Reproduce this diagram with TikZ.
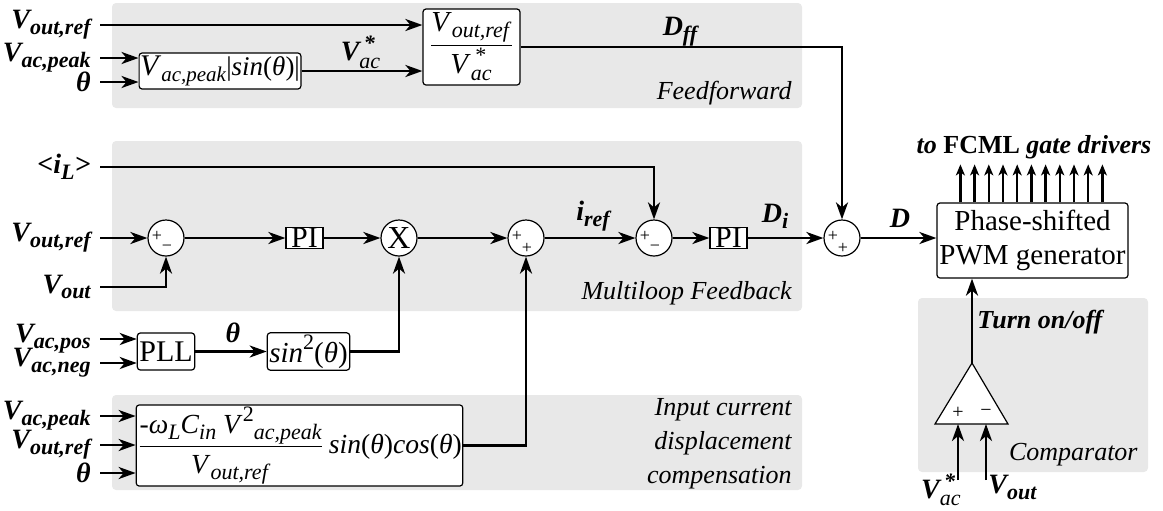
\documentclass[tikz,border=0pt]{standalone}
\usepackage{fontspec}
\setmainfont{Liberation Serif}
\usetikzlibrary{arrows.meta,calc}
\definecolor{panelgray}{RGB}{232,232,232}
\newcommand\sub[1]{\raisebox{-0.45ex}{\fontsize{11}{12}\selectfont #1}}
\newcommand\subs[1]{\raisebox{-0.45ex}{\fontsize{10.5}{12}\selectfont #1}}
\newcommand\supx[1]{\raisebox{0.95ex}{\fontsize{11}{12}\selectfont #1}}
\newcommand\vstar{$\hbox{\textit{V}}^{\hbox{\fontsize{11}{12}\selectfont\hspace{0.2em}*}}_{\hbox{\fontsize{11}{12}\selectfont\textit{ac}}}$}
\newcommand\vstarb{$\hbox{\textbf{\textit{V}}}^{\hbox{\fontsize{11}{12}\selectfont\hspace{0.2em}\textbf{*}}}_{\hbox{\fontsize{11}{12}\selectfont\textmd{\textit{ac}}}}$}
\begin{document}
\begin{tikzpicture}[x=0.5pt,y=-0.5pt,
  font=\fontsize{13}{17}\selectfont,
  panel/.style={fill=panelgray, rounded corners=2pt, draw=none},
  blk/.style={draw, line width=0.6pt, rounded corners=1.5pt, fill=white, inner sep=1pt, font=\fontsize{14.5}{16}\selectfont},
  piblk/.style={draw, line width=0.6pt, fill=white, inner sep=0.5pt, minimum width=18.5pt, minimum height=10.5pt, font=\fontsize{15}{15}\selectfont},
  sumc/.style={circle, draw, line width=0.6pt, fill=white, minimum size=18pt, inner sep=0pt},
  arr/.style={line width=1.3pt, -{Stealth[length=8.5pt,width=6pt,inset=2.5pt]}},
  inlbl/.style={anchor=east, inner xsep=4.5pt, inner ysep=0pt, font=\fontsize{14}{15}\bfseries\itshape\selectfont},
  siglbl/.style={inner sep=0pt, font=\fontsize{14}{15}\bfseries\itshape\selectfont},
  sgn/.style={font=\fontsize{9}{9}\selectfont, inner sep=0pt},
  note/.style={font=\fontsize{13}{17}\itshape\selectfont, inner sep=0pt},
]
\useasboundingbox (0,0) rectangle (1163,510);
% panels
\fill[panel] (112,3) rectangle (802,108);
\fill[panel] (112,141) rectangle (802,311);
\fill[panel] (112,395) rectangle (802,490);
\fill[panel] (918,298) rectangle (1148,472);

% panel titles
\node[note, anchor=east] (tff) at (792,93) {Feedforward};
\node[note, anchor=east] (tml) at (792,293) {Multiloop Feedback};
\node[note, anchor=east, align=right] (tic) at (792,444) {Input current\\displacement\\compensation};
\node[note, anchor=east] (tcp) at (1138,455) {Comparator};

% feedforward blocks
\node[blk, inner xsep=0.5pt, minimum width=80pt, minimum height=18pt, font=\fontsize{13.5}{16}\selectfont] (ffa) at (220,71)
  {{\fontsize{15}{16}\selectfont\textit{V}}\subs{\textit{ac,peak}}|\textit{sin}(\textit{θ})|};
\node[blk, minimum width=48.5pt, minimum height=38pt] (ffb) at (471.5,47)
  {$\displaystyle\frac{\hbox{\textit{V}\sub{\textit{out,ref}}}}{\hbox{\vstar}}$};

% multiloop blocks
\node[sumc] (s1) at (166,238) {};
\node[piblk] (pi1) at (304.5,238) {PI};
\node[sumc, font=\fontsize{16}{16}\selectfont] (mx) at (399,238) {X};
\node[sumc] (s2) at (526,238) {};
\node[sumc] (s3) at (654,238) {};
\node[piblk] (pi2) at (728.5,238) {PI};
\node[sumc] (s4) at (842,238) {};
\node[blk, minimum width=95.5pt, minimum height=37.5pt, align=center, font=\fontsize{14.5}{17}\selectfont] (pwm) at (1032.5,240.5) {Phase-shifted\\PWM generator};

% signs in summing junctions
\node[sgn] at ($(s1)+(-9,-2)$) {+};
\node[sgn] at ($(s1)+(1,10)$) {−};
\node[sgn] at ($(s2)+(-9,-2)$) {+};
\node[sgn] at ($(s2)+(1,10)$) {+};
\node[sgn] at ($(s3)+(-9,-2)$) {+};
\node[sgn] at ($(s3)+(1,10)$) {−};
\node[sgn] at ($(s4)+(-9,-2)$) {+};
\node[sgn] at ($(s4)+(1,10)$) {+};

% lower blocks
\node[blk, minimum width=28pt, minimum height=18.5pt, font=\fontsize{15}{16}\selectfont] (pll) at (166,351.5) {PLL};
\node[blk, minimum width=38.5pt, minimum height=18.5pt] (sq) at (308.5,351.5) {\textit{sin}\supx{2}(\textit{θ})};
\node[blk, inner xsep=0.5pt, minimum width=161.5pt, minimum height=37.5pt, font=\fontsize{13.8}{16}\selectfont] (cb) at (299.5,445.5)
  {$\displaystyle\frac{\hbox{-\textit{ω}\sub{\textit{L}}\textit{C}\sub{\textit{in}} \textit{V}\supx{2}\sub{\textit{ac,peak}}}}{\hbox{\textit{V}\sub{\textit{out,ref}}}}$\,\textit{sin}(\textit{θ})\textit{cos}(\textit{θ})};

% input labels
\node[inlbl] (l1) at (100,25) {V\sub{out,ref}};
\node[inlbl] (l2) at (100,58) {V\sub{ac,peak}};
\node[inlbl] (l3) at (100,82) {θ};
\node[inlbl] (l4) at (100,167) {<i\sub{L}>};
\node[inlbl] (l5) at (100,238) {V\sub{out,ref}};
\node[inlbl] (l6) at (100,287) {V\sub{out}};
\node[inlbl] (l7) at (100,339) {V\sub{ac,pos}};
\node[inlbl] (l8) at (100,363) {V\sub{ac,neg}};
\node[inlbl] (l9) at (100,416) {V\sub{ac,peak}};
\node[inlbl] (l10) at (100,445) {V\sub{out,ref}};
\node[inlbl] (l11) at (100,473) {θ};

% signal labels
\node[siglbl] (lvac) at (361,52) {\vstarb};
\node[siglbl] (ldff) at (680,32) {D\sub{ff}};
\node[siglbl] (liref) at (593,216) {i\sub{ref}};
\node[siglbl] (ldi) at (775,216) {D\sub{i}};
\node[siglbl] (ld) at (900,218) {D};
\node[siglbl] (lth) at (233,333) {θ};
\node[siglbl, font=\fontsize{13}{15}\bfseries\selectfont] (lgate) at (1034,147)
  {\textit{to} FCML \textit{gate drivers}};
\node[siglbl, anchor=west, font=\fontsize{13}{15}\bfseries\itshape\selectfont] (lturn) at (977,322) {Turn on/off};

% comparator
\coordinate (capex) at (972,363);
\coordinate (cp) at (958,424);
\coordinate (cm) at (986,424);
\coordinate (vin1) at (958,480);
\coordinate (vin2) at (986,480);
\draw[line width=0.6pt, fill=white] (capex) -- (1008,424) -- (935,424) -- cycle;
\node[sgn, font=\fontsize{10}{10}\selectfont] at (958,413) {+};
\node[sgn, font=\fontsize{10}{10}\selectfont] at (986,413) {−};
\node[siglbl, anchor=north east] (lcv1) at (962,473) {\vstarb};
\node[siglbl, anchor=north west] (lcv2) at (988,475) {V\sub{out}};

% connectors: feedforward
\draw[arr] (l1.east) -- (l1.east -| ffb.west);
\draw[arr] (l2.east) -- (l2.east -| ffa.west);
\draw[arr] (l3.east) -- (l3.east -| ffa.west);
\draw[arr] (ffa.east) -- (ffa.east -| ffb.west);
\draw[arr] (ffb.east) -| (s4.north);

% connectors: multiloop
\draw[arr] (l4.east) -| (s3.north);
\draw[arr] (l5.east) -- (s1.west);
\draw[arr] (l6.east) -| (s1.south);
\draw[arr] (s1.east) -- (pi1.west);
\draw[arr] (pi1.east) -- (mx.west);
\draw[arr] (mx.east) -- (s2.west);
\draw[arr] (s2.east) -- (s3.west);
\draw[arr] (s3.east) -- (pi2.west);
\draw[arr] (pi2.east) -- (s4.west);
\draw[arr] (s4.east) -- (s4.east -| pwm.west);

% connectors: lower
\draw[arr] (l7.east) -- (l7.east -| pll.west);
\draw[arr] (l8.east) -- (l8.east -| pll.west);
\draw[arr] (pll.east) -- (sq.west);
\draw[arr] (sq.east) -| (mx.south);
\draw[arr] (l9.east) -- (l9.east -| cb.west);
\draw[arr] (l10.east) -- (l10.east -| cb.west);
\draw[arr] (l11.east) -- (l11.east -| cb.west);
\draw[arr] (cb.east) -| (s2.south);

% comparator connectors
\draw[arr] (capex) -- (capex |- pwm.south);
\draw[arr] (vin1) -- (cp);
\draw[arr] (vin2) -- (cm);

% gate driver outputs
\foreach \i in {0,...,10}
  \draw[line width=1.2pt, -{Stealth[length=5.5pt,width=4.5pt,inset=1.5pt]}]
    ([xshift={12pt+7.1pt*\i}]pwm.north west) -- ++(0,-38);
\end{tikzpicture}
\end{document}
